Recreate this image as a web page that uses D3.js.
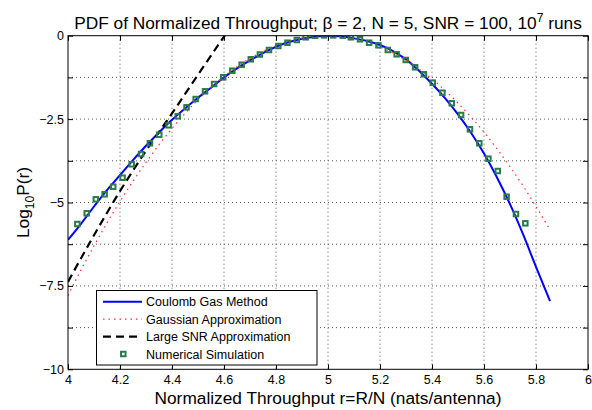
<!DOCTYPE html>
<html><head><meta charset="utf-8">
<script src="https://cdn.jsdelivr.net/npm/d3@7"></script>
<style>body{margin:0;background:#fff} svg{display:block} text{font-family:"Liberation Sans",Arial,Helvetica,sans-serif;fill:#000}</style>
</head><body><svg id="c" width="592" height="410"></svg>
<script>
// ---- data ----
const xTicks = [4, 4.2, 4.4, 4.6, 4.8, 5, 5.2, 5.4, 5.6, 5.8, 6];
const yTicks = [0, -1.25, -2.5, -3.75, -5, -6.25, -7.5, -8.75, -10];
const yLabeled = [0, -2.5, -5, -7.5, -10];

const coulombX = [4.00,4.05,4.10,4.15,4.20,4.25,4.30,4.35,4.40,4.45,4.50,4.55,4.60,4.65,4.70,4.75,4.80,4.85,4.90,4.95,5.00,5.05,5.10,5.15,5.20,5.25,5.30,5.35,5.40,5.45,5.50,5.55,5.60,5.65,5.70,5.75,5.80,5.854];
const coulombY = [-6.12,-5.64,-5.12,-4.63,-4.18,-3.73,-3.30,-2.90,-2.52,-2.18,-1.86,-1.56,-1.25,-0.98,-0.74,-0.52,-0.33,-0.19,-0.09,-0.03,0.00,-0.02,-0.08,-0.16,-0.28,-0.46,-0.71,-1.05,-1.44,-1.87,-2.36,-2.91,-3.53,-4.25,-5.05,-5.95,-6.93,-7.96];

const gaussX = [4.00,4.05,4.10,4.15,4.20,4.25,4.30,4.35,4.40,4.45,4.50,4.55,4.60,4.65,4.70,4.75,4.80,4.85,4.90,4.95,5.00,5.05,5.10,5.15,5.20,5.25,5.30,5.35,5.40,5.45,5.50,5.55,5.60,5.65,5.70,5.75,5.80,5.85];
const gaussY = [-7.79,-7.02,-6.30,-5.61,-4.97,-4.36,-3.80,-3.27,-2.78,-2.33,-1.92,-1.55,-1.22,-0.93,-0.68,-0.47,-0.30,-0.16,-0.07,-0.02,0.00,-0.02,-0.09,-0.19,-0.33,-0.52,-0.74,-1.00,-1.30,-1.64,-2.02,-2.44,-2.89,-3.39,-3.93,-4.50,-5.12,-5.77];

const snrX = [4.00,4.10,4.20,4.30,4.40,4.50,4.60,4.65];
const snrY = [-7.38,-5.98,-4.66,-3.45,-2.33,-1.17,-0.03,0.52];

const simX = [4.036,4.072,4.107,4.141,4.174,4.210,4.245,4.281,4.315,4.351,4.387,4.422,4.456,4.491,4.527,4.562,4.597,4.632,4.668,4.703,4.738,4.773,4.809,4.844,4.880,4.914,4.950,4.985,5.020,5.057,5.088,5.123,5.158,5.194,5.230,5.264,5.299,5.335,5.369,5.403,5.440,5.476,5.512,5.546,5.582,5.617,5.653,5.687,5.723,5.759];
const simY = [-5.645,-5.324,-4.904,-4.754,-4.526,-4.257,-3.855,-3.546,-3.225,-2.968,-2.686,-2.416,-2.146,-1.898,-1.667,-1.448,-1.247,-1.049,-0.869,-0.707,-0.564,-0.429,-0.309,-0.210,-0.129,-0.048,0.0,0.01,0.01,0.0,-0.048,-0.108,-0.210,-0.288,-0.429,-0.558,-0.728,-0.947,-1.157,-1.409,-1.709,-2.026,-2.377,-2.806,-3.225,-3.687,-4.056,-4.826,-5.345,-5.624];

const legendLabels = ["Coulomb Gas Method", "Gaussian Approximation", "Large SNR Approximation", "Numerical Simulation"];

// ---- layout ----
const L = 68, R = 588, T = 35.7, B = 369.3;
const svg = d3.select("#c");
const x = d3.scaleLinear().domain([4, 6]).range([L, R]);
const y = d3.scaleLinear().domain([-10, 0]).range([B, T]);

svg.append("defs").append("clipPath").attr("id", "clip")
  .append("rect").attr("x", L).attr("y", T).attr("width", R - L).attr("height", B - T);

// grid
const grid = svg.append("g").attr("stroke", "#555").attr("stroke-width", 1).attr("stroke-dasharray", "1,3");
xTicks.slice(1, -1).forEach(v => grid.append("line").attr("x1", x(v)).attr("x2", x(v)).attr("y1", T).attr("y2", B));
yTicks.slice(1, -1).forEach(v => grid.append("line").attr("x1", L).attr("x2", R).attr("y1", y(v)).attr("y2", y(v)));

const fmt = d3.format("");
// axes
const xAxis = d3.axisBottom(x).tickValues(xTicks).tickSizeInner(-5).tickSizeOuter(0).tickPadding(6).tickFormat(fmt);
const gx = svg.append("g").attr("transform", `translate(0,${B})`).call(xAxis);
const yAxis = d3.axisLeft(y).tickValues(yTicks).tickSizeInner(-5).tickSizeOuter(0).tickPadding(4)
  .tickFormat(d => yLabeled.some(v => Math.abs(v - d) < 1e-9) ? fmt(d) : "");
const gy = svg.append("g").attr("transform", `translate(${L},0)`).call(yAxis);
const gxt = svg.append("g").attr("transform", `translate(0,${T})`).call(d3.axisTop(x).tickValues(xTicks).tickSizeInner(-5).tickSizeOuter(0).tickFormat(""));
const gyr = svg.append("g").attr("transform", `translate(${R},0)`).call(d3.axisRight(y).tickValues(yTicks).tickSizeInner(-5).tickSizeOuter(0).tickFormat(""));
[gx, gy, gxt, gyr].forEach(g => {
  g.select(".domain").remove();
  g.selectAll("line").attr("stroke", "#000");
  g.selectAll("text").attr("font-size", "12.5px").attr("fill", "#000").style("font-family", '"Liberation Sans",Arial,sans-serif');
});

// curves
const plot = svg.append("g").attr("clip-path", "url(#clip)");
const line = d3.line().x(d => x(d[0])).y(d => y(d[1])).curve(d3.curveMonotoneX);
plot.append("path").datum(coulombX.map((v, i) => [v, coulombY[i]])).attr("d", line)
  .attr("fill", "none").attr("stroke", "#0000ff").attr("stroke-width", 2);
plot.append("path").datum(gaussX.map((v, i) => [v, gaussY[i]])).attr("d", line)
  .attr("fill", "none").attr("stroke", "#ff3030").attr("stroke-width", 1.2).attr("stroke-dasharray", "1.5,4");
plot.append("path").datum(snrX.map((v, i) => [v, snrY[i]])).attr("d", line)
  .attr("fill", "none").attr("stroke", "#000").attr("stroke-width", 2.2).attr("stroke-dasharray", "8,5");
const sq = 4.5;
plot.selectAll("rect.sim").data(simX.map((v, i) => [v, simY[i]])).join("rect").attr("class", "sim")
  .attr("x", d => x(d[0]) - sq / 2).attr("y", d => y(d[1]) - sq / 2).attr("width", sq).attr("height", sq)
  .attr("fill", "none").attr("stroke", "#2b7a4b").attr("stroke-width", 2);

// box
svg.append("rect").attr("x", L).attr("y", T).attr("width", R - L).attr("height", B - T)
  .attr("fill", "none").attr("stroke", "#000").attr("stroke-width", 1);

// legend
const lg = svg.append("g");
lg.append("rect").attr("x", 96.5).attr("y", 290.5).attr("width", 220.5).attr("height", 74.5)
  .attr("fill", "#fff").attr("stroke", "#000").attr("stroke-width", 1);
const ly = d3.scalePoint().domain(legendLabels).range([301.7, 354]);
const styles = [
  {stroke: "#0000ff", w: 2, dash: null},
  {stroke: "#ff3030", w: 1.2, dash: "1.5,4"},
  {stroke: "#000", w: 2.2, dash: "8,5"}
];
legendLabels.forEach((lab, i) => {
  const yy = ly(lab);
  if (i < 3) {
    lg.append("line").attr("x1", 103).attr("x2", 142).attr("y1", yy).attr("y2", yy)
      .attr("stroke", styles[i].stroke).attr("stroke-width", styles[i].w).attr("stroke-dasharray", styles[i].dash);
  } else {
    lg.append("rect").attr("x", 123.3 - sq / 2).attr("y", yy - sq / 2).attr("width", sq).attr("height", sq)
      .attr("fill", "none").attr("stroke", "#2b7a4b").attr("stroke-width", 2);
  }
  lg.append("text").attr("x", 146).attr("y", yy).attr("dy", "0.36em").attr("font-size", "12.5px").text(lab);
});

// title
const title = svg.append("text").attr("x", 328).attr("y", 29).attr("text-anchor", "middle").attr("font-size", "17.3px");
title.append("tspan").text("PDF of Normalized Throughput; β = 2, N = 5, SNR = 100, 10");
title.append("tspan").attr("dy", -7).attr("font-size", "12px").text("7");
title.append("tspan").attr("dy", 7).text(" runs");

// x label
svg.append("text").attr("x", 328).attr("y", 403.5).attr("text-anchor", "middle").attr("font-size", "17.3px")
  .text("Normalized Throughput r=R/N (nats/antenna)");

// y label
const yl = svg.append("text").attr("transform", `translate(29,${(T + B) / 2}) rotate(-90)`).attr("text-anchor", "middle").attr("font-size", "17.3px");
yl.append("tspan").text("Log");
yl.append("tspan").attr("dy", 5).attr("font-size", "12px").text("10");
yl.append("tspan").attr("dy", -5).text("P(r)");
</script></body></html>
